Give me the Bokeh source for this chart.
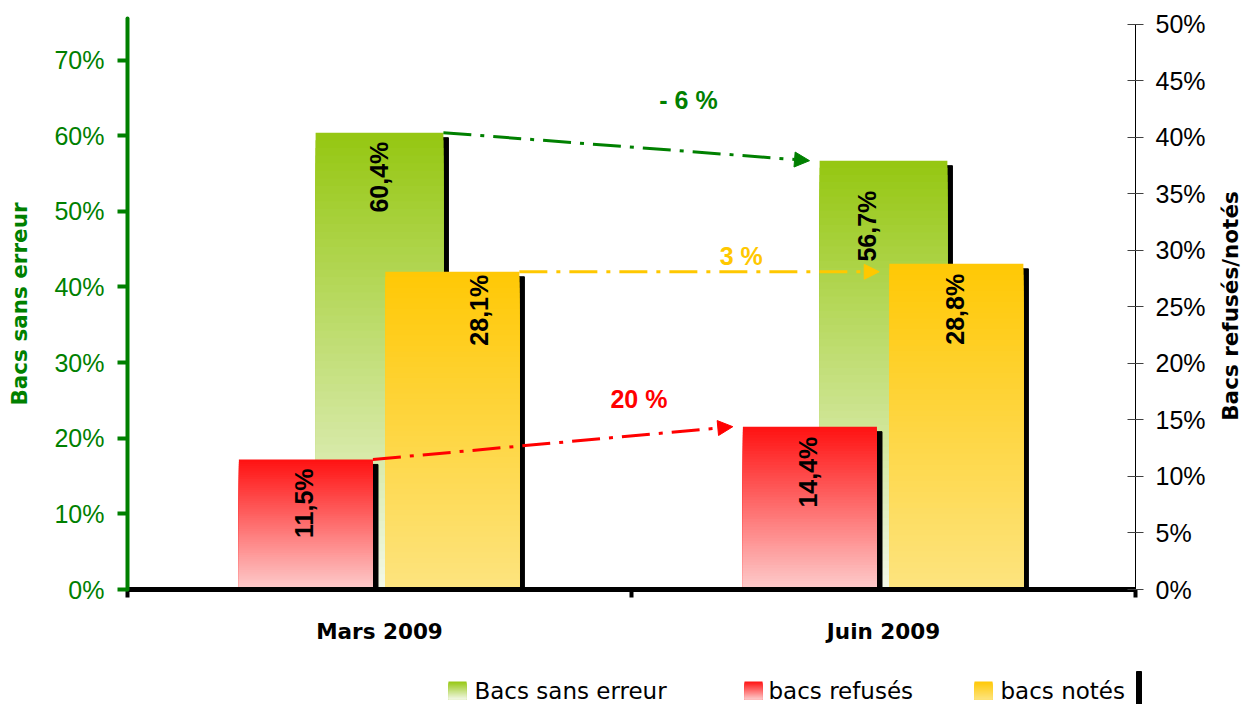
import math
from bokeh.plotting import figure
from bokeh.models import (Range1d, LinearAxis, FixedTicker, ColumnDataSource, Arrow,
                          NormalHead, Label, PrintfTickFormatter)
from bokeh.embed import file_html
from bokeh.resources import INLINE
from bokeh.core.properties import value

# ---------------- data ----------------
categories = ["Mars 2009", "Juin 2009"]
sans_erreur = [60.4, 56.7]     # left axis (%)
refuses = [11.5, 14.4]         # right axis (%)
notes = [28.1, 28.8]           # right axis (%)
series_names = ["Bacs sans erreur", "bacs refusés", "bacs notés"]
change_labels = ["- 6 %", "20 %", "3 %"]   # green, red, yellow
left_ticks = [0, 10, 20, 30, 40, 50, 60, 70]
right_ticks = [0, 5, 10, 15, 20, 25, 30, 35, 40, 45, 50]
left_title = "Bacs sans erreur"
right_title = "Bacs refusés/notés"

# ---------------- style ----------------
GREEN = "#008000"
G_TOP, G_BOT = "#95c711", "#f3f8e8"
R_TOP, R_BOT = "#ff1111", "#fdcccc"
Y_TOP, Y_BOT = "#ffc805", "#fde47f"
YEL_TXT = "#ffc800"
RED_TXT = "#ff0000"

FIG_W, FIG_H = 1244, 704
FL, FR, FT, FB = 127, 1135, 18, 589      # frame edges in figure pixels

cat_x = [2 * i + 1 for i in range(len(categories))]
W_G, W_RY = 0.507, 0.532
OFF_R, OFF_Y = -0.292, 0.289
SH_DX = 0.02
LEFT_MAX, RIGHT_MAX = 75.5, 50.5
SH_DY_L, SH_DY_R = 0.66, 0.44


def rgb(h):
    h = h.lstrip("#")
    return tuple(int(h[i:i + 2], 16) for i in (0, 2, 4))


def mix(c_bot, c_top, t):
    a, b = rgb(c_bot), rgb(c_top)
    return "#%02x%02x%02x" % tuple(int(round(a[i] + (b[i] - a[i]) * t)) for i in range(3))


def gradient_source(centers, width, vals, top, bot, n=60):
    d = dict(left=[], right=[], top=[], bottom=[], color=[])
    for xc, v in zip(centers, vals):
        for k in range(n, 0, -1):
            d["left"].append(xc - width / 2)
            d["right"].append(xc + width / 2)
            d["bottom"].append(0)
            d["top"].append(v * k / n)
            d["color"].append(mix(bot, top, (k - 0.5) / n))
    return ColumnDataSource(d)


p = figure(width=FIG_W, height=FIG_H, x_range=Range1d(0, 4), y_range=Range1d(0, LEFT_MAX),
           output_backend="svg", toolbar_location=None,
           min_border_left=FL, min_border_right=FIG_W - FR, min_border_top=FT,
           min_border_bottom=FIG_H - FB,
           outline_line_color=None, background_fill_color="white", border_fill_color="white")
p.extra_y_ranges = {"right": Range1d(0, RIGHT_MAX), "px": Range1d(FB, FT)}
p.extra_x_ranges = {"px": Range1d(FL, FR)}
p.xgrid.visible = False
p.ygrid.visible = False

g_x = list(cat_x)
r_x = [c + OFF_R for c in cat_x]
y_x = [c + OFF_Y for c in cat_x]

# green (left axis)
p.quad(left=[x - W_G / 2 + SH_DX for x in g_x], right=[x + W_G / 2 + SH_DX for x in g_x],
       top=[v - SH_DY_L for v in sans_erreur], bottom=0, color="black")
p.quad(left="left", right="right", top="top", bottom="bottom", fill_color="color",
       line_color=None, source=gradient_source(g_x, W_G, sans_erreur, G_TOP, G_BOT))
# red (right axis)
p.quad(left=[x - W_RY / 2 + SH_DX for x in r_x], right=[x + W_RY / 2 + SH_DX for x in r_x],
       top=[v - SH_DY_R for v in refuses], bottom=0, color="black", y_range_name="right")
p.quad(left="left", right="right", top="top", bottom="bottom", fill_color="color",
       line_color=None, y_range_name="right",
       source=gradient_source(r_x, W_RY, refuses, R_TOP, R_BOT))
# yellow (right axis)
p.quad(left=[x - W_RY / 2 + SH_DX for x in y_x], right=[x + W_RY / 2 + SH_DX for x in y_x],
       top=[v - SH_DY_R for v in notes], bottom=0, color="black", y_range_name="right")
p.quad(left="left", right="right", top="top", bottom="bottom", fill_color="color",
       line_color=None, y_range_name="right",
       source=gradient_source(y_x, W_RY, notes, Y_TOP, Y_BOT))


def fmt(v):
    return ("%.1f" % v).replace(".", ",") + "%"


def bar_labels(xs, vals, nudges, rng):
    src = ColumnDataSource(dict(x=xs, y=vals, t=[fmt(v) for v in vals],
                                dx=[n[0] for n in nudges], dy=[n[1] for n in nudges]))
    kw = {} if rng is None else {"y_range_name": rng}
    p.text(x="x", y="y", text="t", x_offset="dx", y_offset="dy", angle=math.pi / 2,
           text_align="right", text_baseline="middle", text_font=value("Liberation Sans"),
           text_font_style="bold", text_font_size="25px", text_color="black", source=src, **kw)


bar_labels(g_x, sans_erreur, [(-1, 9), (-17, 30)], None)
bar_labels(r_x, refuses, [(-2, 9), (-2, 10)], "right")
bar_labels(y_x, notes, [(27, 3), (-1, 10)], "right")

# arrows + change labels
GAP = 0.04
arrows = [
    (g_x[0] + W_G / 2, sans_erreur[0], g_x[1] - W_G / 2 - GAP, sans_erreur[1], GREEN, None,
     change_labels[0], (62, 47)),
    (r_x[0] + W_RY / 2, refuses[0], r_x[1] - W_RY / 2 - GAP, refuses[1], RED_TXT, "right",
     change_labels[1], (86, 44)),
    (y_x[0] + W_RY / 2, notes[0], y_x[1] - W_RY / 2 - GAP, notes[0], YEL_TXT, "right",
     change_labels[2], (42, 16)),
]
for xs, ys, xe, ye, col, rng, txt, (ox, oy) in arrows:
    kw = {} if rng is None else {"y_range_name": rng}
    p.add_layout(Arrow(x_start=xs, y_start=ys, x_end=xe, y_end=ye, line_color=col, line_width=3,
                       line_dash="28 9 4 9",
                       end=NormalHead(size=15, fill_color=col, line_color=col, line_width=1),
                       **kw))
    p.add_layout(Label(x=(xs + xe) / 2, y=(ys + ye) / 2, x_offset=ox, y_offset=oy, text=txt,
                       text_align="center", text_baseline="middle",
                       text_font="Liberation Sans", text_font_style="bold",
                       text_font_size="25px", text_color=col, **kw))

# x axis
xa = p.xaxis[0]
xa.ticker = FixedTicker(ticks=cat_x, minor_ticks=[0, 2, 4])
xa.major_label_overrides = {x: c for x, c in zip(cat_x, categories)}
xa.major_tick_out = 0
xa.major_tick_in = 0
xa.minor_tick_out = 8
xa.minor_tick_in = 0
xa.minor_tick_line_width = 4
xa.minor_tick_line_color = "black"
xa.axis_line_width = 5
xa.axis_line_color = "black"
xa.major_label_text_font = "DejaVu Sans"
xa.major_label_text_font_style = "bold"
xa.major_label_text_font_size = "21.5px"
xa.major_label_text_color = "black"
xa.major_label_standoff = 21

# left axis
ya = p.yaxis[0]
ya.ticker = FixedTicker(ticks=left_ticks, minor_ticks=[])
ya.formatter = PrintfTickFormatter(format="%d%%")
ya.axis_line_color = GREEN
ya.axis_line_width = 4
ya.axis_line_cap = "round"
ya.major_tick_out = 10
ya.major_tick_in = 0
ya.major_tick_line_width = 4
ya.major_tick_line_color = GREEN
ya.minor_tick_out = 0
ya.minor_tick_in = 0
ya.major_label_text_font = "Liberation Sans"
ya.major_label_text_font_size = "25px"
ya.major_label_text_color = GREEN
ya.major_label_standoff = 13
ya.axis_label = left_title
ya.axis_label_text_font = "DejaVu Sans"
ya.axis_label_text_font_style = "bold"
ya.axis_label_text_font_size = "21.5px"
ya.axis_label_text_color = GREEN
ya.axis_label_standoff = 19

# right axis
ra = LinearAxis(y_range_name="right", ticker=FixedTicker(ticks=right_ticks, minor_ticks=[]),
                formatter=PrintfTickFormatter(format="%d%%"), bounds=(0, 50))
ra.axis_line_color = "black"
ra.axis_line_width = 1
ra.major_tick_out = 8
ra.major_tick_in = 8
ra.major_tick_line_color = "#404040"
ra.minor_tick_out = 0
ra.minor_tick_in = 0
ra.major_label_text_font = "Liberation Sans"
ra.major_label_text_font_size = "25px"
ra.major_label_text_color = "black"
ra.major_label_standoff = 12
p.add_layout(ra, "right")

# right axis title (figure-pixel coordinates, outside the frame)
p.text(x=[1230], y=[(FT + FB) / 2 + 2], text=[right_title], angle=math.pi / 2,
       text_align="center", text_baseline="middle", text_font=value("DejaVu Sans"),
       text_font_style="bold", text_font_size="21.5px", text_color="black",
       x_range_name="px", y_range_name="px", level="annotation")

# ---------------- legend (figure-pixel coordinates) ----------------
LEG_Y = 690
items = [(448, 474, series_names[0], G_TOP, G_BOT),
         (744, 768, series_names[1], R_TOP, R_BOT),
         (974, 1000, series_names[2], Y_TOP, Y_BOT)]
for sx, tx, name, top, bot in items:
    n = 18
    d = dict(left=[], right=[], top=[], bottom=[], color=[])
    for k in range(n, 0, -1):
        d["left"].append(sx)
        d["right"].append(sx + 18)
        d["bottom"].append(LEG_Y + 9)
        d["top"].append(LEG_Y + 9 - 18 * k / n)
        d["color"].append(mix(bot, top, (k - 0.5) / n))
    p.quad(left="left", right="right", top="top", bottom="bottom", fill_color="color",
           line_color=None, source=ColumnDataSource(d),
           x_range_name="px", y_range_name="px", level="annotation")
    p.text(x=[tx], y=[LEG_Y], text=[name], text_align="left", text_baseline="middle",
           text_font=value("DejaVu Sans"), text_font_size="23px", text_color="black",
           x_range_name="px", y_range_name="px", level="annotation")
p.quad(left=[1136], right=[1141], bottom=[704], top=[LEG_Y - 19], color="black",
       x_range_name="px", y_range_name="px", level="annotation")

open("out.html", "w").write(file_html(p, INLINE))
